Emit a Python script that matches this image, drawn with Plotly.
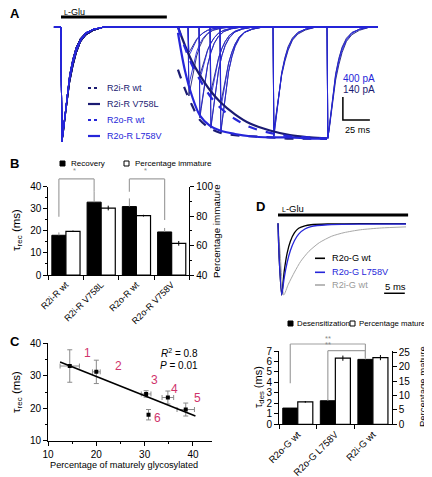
import numpy as np
import plotly.graph_objects as go

# The page body has an 8 px default margin: the figure is drawn 8 px in from the top-left,
# so all pixel positions below are page pixels converted with that offset.
OFF = 8
W, H = 432 - OFF, 477 - OFF
def fx(p): return (p - OFF) / W
def fy(p): return 1 - (p - OFF) / H

FONT = "Liberation Sans, Arial, Helvetica, sans-serif"
DARK = "#1b1b72"
BLUE = "#2626d9"
BRK = "#a0a0a0"
PINK = "#d0336b"
GREYTR = "#a8a8a8"

# ===================== DATA =====================
# ---- Panel A : recovery from desensitization (time in ms, current in pA) ----
A_constructs = ["R2i-R wt", "R2i-R V758L", "R2o-R wt", "R2o-R L758V"]
A_desens_t = [0, 0.8, 2, 4, 6, 8, 11, 14, 18, 23, 30, 40]
A_desens_frac = [
    [0, 1.0, 0.90, 0.72, 0.55, 0.42, 0.28, 0.18, 0.10, 0.05, 0.02, 0.0],
    [0, 1.0, 0.93, 0.77, 0.61, 0.48, 0.34, 0.23, 0.13, 0.07, 0.03, 0.0],
    [0, 1.0, 0.92, 0.75, 0.58, 0.45, 0.31, 0.21, 0.12, 0.06, 0.02, 0.0],
    [0, 1.0, 0.91, 0.73, 0.56, 0.43, 0.29, 0.19, 0.11, 0.05, 0.02, 0.0],
]
A_peak_pA = 2000
A_glu = [0, 98]
A_sweep = [-6.5, 293.5]
A_test_onset = [117.6, 127.8, 138.0, 147.2, 196.3, 246.3]
A_test_frac = [
    [0.60, 0.79, 0.88, 0.92, 0.95, 0.97],
    [0.22, 0.41, 0.55, 0.65, 0.88, 0.96],
    [0.25, 0.45, 0.60, 0.70, 0.91, 0.96],
    [0.50, 0.76, 0.86, 0.90, 0.95, 0.97],
]
A_fit_t = [108.3, 114.8, 121.3, 128.7, 138.0, 147.2, 161.1, 175.0, 193.5, 212.0, 230.6, 246.3]
A_fit_frac = [
    [0.37, 0.54, 0.68, 0.81, 0.88, 0.92, 0.94, 0.95, 0.96, 0.97, 0.97, 0.97],
    [0.00, 0.16, 0.30, 0.42, 0.55, 0.65, 0.76, 0.84, 0.90, 0.94, 0.96, 0.97],
    [0.00, 0.18, 0.33, 0.46, 0.60, 0.70, 0.80, 0.87, 0.92, 0.95, 0.96, 0.97],
    [0.05, 0.38, 0.60, 0.77, 0.86, 0.90, 0.93, 0.95, 0.96, 0.96, 0.97, 0.97],
]
A_scale_ms, A_scale_pA = 25, 400

# ---- Panel B ----
B_labels = ["R2i-R wt", "R2i-R V758L", "R2o-R wt", "R2o-R V758V"]
B_recovery = [18.0, 33.0, 31.0, 19.5]
B_recovery_err = [1.3, 4.7, 3.7, 1.8]
B_immature = [69.7, 85.5, 80.3, 61.5]
B_immature_err = [0.5, 1.6, 0.6, 1.6]

# ---- Panel C ----
C_x = [14.5, 20.0, 30.3, 34.8, 38.5, 30.8]
C_y = [33.0, 31.2, 24.4, 23.3, 19.6, 18.0]
C_xerr = [2.0, 0.8, 1.0, 1.2, 1.8, 0.0]
C_yerr = [5.0, 3.6, 1.0, 2.0, 2.0, 1.6]
C_ids = ["1", "2", "3", "4", "5", "6"]

# ---- Panel D traces (time ms, normalised current) ----
D_names = ["R2o-G wt", "R2o-G L758V", "R2i-G wt"]
D_t = [
    [0, 0.3, 0.9, 1.5, 2.2, 3.0, 4.0, 5.0, 6.5, 8, 12, 20, 31],
    [0, 0.3, 0.9, 1.5, 2.2, 3.0, 4.0, 5.0, 6.5, 8, 12, 20, 31],
    [0, 0.5, 1.4, 2.5, 4, 5.5, 7.5, 10, 13, 16, 20, 25, 31],
]
D_i = [
    [0, -0.5, -1, -0.67, -0.42, -0.25, -0.13, -0.07, -0.035, -0.02, -0.01, -0.005, -0.005],
    [0, -0.5, -1, -0.76, -0.55, -0.38, -0.24, -0.15, -0.08, -0.045, -0.02, -0.012, -0.01],
    [0, -0.4, -1, -0.85, -0.68, -0.53, -0.39, -0.27, -0.18, -0.13, -0.09, -0.065, -0.05],
]
D_glu = [0, 31.5]
D_scale_ms = 5

# ---- Panel D bars ----
D_labels = ["R2o-G wt", "R2o-G L758V", "R2i-G wt"]
D_des = [1.55, 2.25, 6.2]
D_des_err = [0.08, 0.12, 0.1]
D_mature = [7.8, 23.0, 23.2]
D_mature_err = [0.3, 0.9, 0.9]

# ===================== FIGURE =====================
fig = go.Figure()
A_col = [DARK, DARK, BLUE, BLUE]
A_dash = ["dash", "solid", "dash", "solid"]

for k in range(4):
    for j, onset in enumerate(A_test_onset):
        t = [A_sweep[0]] + [A_glu[0] + d for d in A_desens_t] + [onset + d for d in A_desens_t] + [A_sweep[1]]
        i = [0] + [-A_peak_pA * f for f in A_desens_frac[k]] + \
            [-A_peak_pA * A_test_frac[k][j] * f for f in A_desens_frac[k]] + [0]
        fig.add_trace(go.Scatter(x=t, y=i, mode="lines", xaxis="x", yaxis="y",
                                 line=dict(color=A_col[k], width=0.9), hoverinfo="skip"))
for k in range(4):
    fig.add_trace(go.Scatter(x=A_fit_t, y=[-A_peak_pA * f for f in A_fit_frac[k]], mode="lines",
                             xaxis="x", yaxis="y", line=dict(color=A_col[k], width=2.2, dash=A_dash[k], shape="spline"),
                             hoverinfo="skip"))
A_bar_y = 174
fig.add_trace(go.Scatter(x=A_glu, y=[A_bar_y, A_bar_y], mode="lines", xaxis="x", yaxis="y",
                         line=dict(color="black", width=3), hoverinfo="skip"))
sb_t0, sb_i0 = 261.0, -1617
fig.add_trace(go.Scatter(x=[sb_t0, sb_t0, sb_t0 + A_scale_ms], y=[sb_i0 + A_scale_pA, sb_i0, sb_i0],
                         mode="lines", xaxis="x", yaxis="y", line=dict(color="black", width=1.5), hoverinfo="skip"))

fig.add_trace(go.Bar(x=B_labels, y=B_recovery, xaxis="x2", yaxis="y2", offset=-0.4, width=0.4,
                     marker=dict(color="black", line=dict(color="black", width=1)),
                     error_y=dict(type="data", symmetric=False, array=B_recovery_err, arrayminus=[0] * 4,
                                  color="#909090", thickness=1, width=0)))
fig.add_trace(go.Bar(x=B_labels, y=[v - 40 for v in B_immature], base=40, xaxis="x2", yaxis="y3", offset=0, width=0.4,
                     marker=dict(color="white", line=dict(color="black", width=1.2)),
                     error_y=dict(type="data", array=B_immature_err, color="black", thickness=1, width=0)))

fig.add_trace(go.Scatter(x=C_x, y=C_y, mode="markers", xaxis="x3", yaxis="y4",
                         marker=dict(symbol="square", size=4, color="black"),
                         error_x=dict(type="data", array=C_xerr, color="#8a8a8a", thickness=1, width=2.5),
                         error_y=dict(type="data", array=C_yerr, color="#8a8a8a", thickness=1, width=2.5)))
slope, intercept = np.polyfit(C_x, C_y, 1)
fit_ext = np.array([12.5, 40.5])
fig.add_trace(go.Scatter(x=fit_ext, y=slope * fit_ext + intercept, mode="lines", xaxis="x3", yaxis="y4",
                         line=dict(color="black", width=1.6), hoverinfo="skip"))
C_lab_off = [(3.7, 4.0), (4.6, 1.8), (1.8, 4.4), (1.3, 2.7), (2.5, 3.7), (1.8, -1.1)]

D_col = ["black", BLUE, GREYTR]
D_w = [1.3, 1.3, 1.0]
for k in [2, 0, 1]:
    fig.add_trace(go.Scatter(x=D_t[k], y=D_i[k], mode="lines", xaxis="x4", yaxis="y5",
                             line=dict(color=D_col[k], width=D_w[k], shape="spline", smoothing=0.6), hoverinfo="skip"))
fig.add_trace(go.Scatter(x=D_glu, y=[0.116, 0.116], mode="lines", xaxis="x4", yaxis="y5",
                         line=dict(color="black", width=3), hoverinfo="skip"))
D_sb_t0, D_sb_i = 25.7, -0.976
fig.add_trace(go.Scatter(x=[D_sb_t0, D_sb_t0 + D_scale_ms], y=[D_sb_i, D_sb_i], mode="lines", xaxis="x4", yaxis="y5",
                         line=dict(color="black", width=1.5), hoverinfo="skip"))

fig.add_trace(go.Bar(x=D_labels, y=D_des, xaxis="x5", yaxis="y6", offset=-0.4, width=0.4,
                     marker=dict(color="black", line=dict(color="black", width=1)),
                     error_y=dict(type="data", symmetric=False, array=D_des_err, arrayminus=[0] * 3,
                                  color="#909090", thickness=1, width=0)))
fig.add_trace(go.Bar(x=D_labels, y=D_mature, xaxis="x5", yaxis="y7", offset=0, width=0.4,
                     marker=dict(color="white", line=dict(color="black", width=1.2)),
                     error_y=dict(type="data", array=D_mature_err, color="black", thickness=1, width=0)))

# ===================== AXES =====================
TICKF = dict(size=10, family=FONT, color="black")
base = dict(showline=True, linecolor="black", linewidth=1, ticks="outside", tickcolor="black",
            ticklen=4, tickwidth=1, showgrid=False, zeroline=False, automargin=False, tickfont=TICKF)
hidden = dict(visible=False, showgrid=False, zeroline=False, fixedrange=True, automargin=False)

A_range_x = [(50 - 61) / 1.08, (385 - 61) / 1.08]
A_range_y = [-(150 - 27) * 17.39, (27 - 8) * 17.39]
D_range_x = [(270 - 278) / 4.13, (412 - 278) / 4.13]
D_range_y = [-(300 - 223.3) / 71.7, (223.3 - 205) / 71.7]

B_y0, B_y1 = 275.0, 186.7
C_x0, C_x1 = 48.0, 48.0 + 34 * 4.833
C_y0, C_y1 = 440.7, 343.3
D_y0, D_y1 = 424.3, 351.0

layout_axes = dict(
    xaxis=dict(hidden, domain=[fx(50), fx(385)], range=A_range_x, anchor="y"),
    yaxis=dict(hidden, domain=[fy(150), fy(8)], range=A_range_y, anchor="x"),
    xaxis2=dict(base, type="category", domain=[fx(48.3), fx(189.3)], anchor="y2", tickson="boundaries",
                tickangle=-45, tickfont=dict(size=9, family=FONT, color="black"), range=[-0.5, 3.5]),
    yaxis2=dict(base, domain=[fy(B_y0), fy(B_y1)], range=[0, 40], tick0=0, dtick=10, anchor="x2",
                minor=dict(dtick=5, ticks="outside", ticklen=2, tickcolor="black")),
    yaxis3=dict(base, overlaying="y2", side="right", range=[40, 100], tick0=40, dtick=20, anchor="x2",
                minor=dict(dtick=10, ticks="outside", ticklen=2, tickcolor="black")),
    xaxis3=dict(base, domain=[fx(C_x0), fx(C_x1)], range=[10, 44], tickvals=[10, 20, 30, 40], anchor="y4",
                minor=dict(tickvals=[15, 25, 35], ticks="outside", ticklen=2, tickcolor="black")),
    yaxis4=dict(base, domain=[fy(C_y0), fy(C_y1)], range=[10, 40], tick0=10, dtick=10, anchor="x3",
                minor=dict(dtick=5, ticks="outside", ticklen=2, tickcolor="black")),
    xaxis4=dict(hidden, domain=[fx(270), fx(412)], range=D_range_x, anchor="y5"),
    yaxis5=dict(hidden, domain=[fy(300), fy(205)], range=D_range_y, anchor="x4"),
    xaxis5=dict(base, type="category", domain=[fx(279), fx(391.7)], anchor="y6", tickson="boundaries",
                tickangle=-45, tickfont=dict(size=9.5, family=FONT, color="black"), range=[-0.5, 2.5]),
    yaxis6=dict(base, domain=[fy(D_y0), fy(D_y1)], range=[0, 7], tick0=0, dtick=1, anchor="x5"),
    yaxis7=dict(base, overlaying="y6", side="right", range=[0, 25.5], tick0=0, dtick=5, anchor="x5"),
)

# ===================== ANNOTATIONS / SHAPES =====================
ann = []
shapes = []
def txt(x, y, s, size=10, color="black", xanchor="left", yanchor="middle", angle=0, bold=False):
    ann.append(dict(x=fx(x), y=fy(y), xref="paper", yref="paper", text=("<b>%s</b>" % s) if bold else s,
                    showarrow=False, xanchor=xanchor, yanchor=yanchor, textangle=angle,
                    font=dict(size=size, color=color, family=FONT)))

txt(8, 13.5, "A", 13, bold=True)
txt(8, 164, "B", 13, bold=True)
txt(8, 341.5, "C", 13, bold=True)
txt(254, 206, "D", 13, bold=True)

LGLU = "<span style='font-size:7px'>L</span>-Glu"
txt(62, 12.5, LGLU, 9)
txt(341, 78, "400 pA", 10, BLUE)
txt(341, 90, "140 pA", 10, DARK)
txt(357, 130, "25 ms", 9.2, xanchor="center")
leg_y = [88, 104, 120, 136]
leg_dash = ["dot", "solid", "dot", "solid"]
for k, name in enumerate(A_constructs):
    shapes.append(dict(type="line", xref="paper", yref="paper", x0=fx(88), x1=fx(100), y0=fy(leg_y[k]), y1=fy(leg_y[k]),
                       line=dict(color=A_col[k], width=2.2, dash=leg_dash[k])))
    txt(105, leg_y[k], name, 9, A_col[k])

shapes.append(dict(type="rect", xref="paper", yref="paper", x0=fx(60), x1=fx(65), y0=fy(166), y1=fy(161),
                   fillcolor="black", line=dict(color="black", width=1)))
txt(69, 163.5, "Recovery", 8)
shapes.append(dict(type="rect", xref="paper", yref="paper", x0=fx(124), x1=fx(129), y0=fy(166), y1=fy(161),
                   fillcolor="white", line=dict(color="black", width=1)))
txt(132.5, 163.5, "Percentage immature", 8)
txt(17, 230, "τ<sub>rec</sub> (ms)", 11.5, xanchor="center", angle=-90)
txt(216, 231, "Percentage immature", 9.8, xanchor="center", angle=-90)

def yB(v): return fy(B_y0 - v * (B_y0 - B_y1) / 40.0)
B_brackets = [(-0.2, 0.8, 43.5, 26.4, 37.7), (1.8, 2.8, 43.5, 37.7, 24.9)]
for xl, xr, top, lb, rb in B_brackets:
    for (a0, a1, b0, b1) in [(xl, xl, lb, top), (xl, xr, top, top), (xr, xr, top, rb)]:
        shapes.append(dict(type="line", xref="x2", yref="paper", x0=a0, x1=a1, y0=yB(b0), y1=yB(b1),
                           line=dict(color=BRK, width=1.2)))
    ann.append(dict(x=(xl + xr) / 2 - 0.05, y=yB(top + 0.8), xref="x2", yref="paper", text="*", showarrow=False,
                    xanchor="center", yanchor="bottom", font=dict(size=7.5, color="#888", family=FONT)))

for k in range(6):
    ann.append(dict(x=C_x[k] + C_lab_off[k][0], y=C_y[k] + C_lab_off[k][1], xref="x3", yref="y4", text=C_ids[k],
                    showarrow=False, font=dict(size=12, color=PINK, family=FONT)))
txt(200, 353, "<i>R</i><sup>2</sup> = 0.8", 10, xanchor="right")
txt(200, 365, "<i>P</i> = 0.01", 10, xanchor="right")
txt(17, 392, "τ<sub>rec</sub> (ms)", 11.5, xanchor="center", angle=-90)
txt(124, 465, "Percentage of maturely glycosylated", 9.2, xanchor="center")

txt(280, 208, LGLU, 9.5)
D_leg_y = [258.3, 272.3, 285.0]
for k, name in enumerate(D_names):
    shapes.append(dict(type="line", xref="paper", yref="paper", x0=fx(315), x1=fx(325), y0=fy(D_leg_y[k]), y1=fy(D_leg_y[k]),
                       line=dict(color=D_col[k], width=1.6)))
    txt(330, D_leg_y[k], name, 9.2, D_col[k] if k != 2 else "#999999")
txt(395, 286, "5 ms", 9.5, xanchor="center")

shapes.append(dict(type="rect", xref="paper", yref="paper", x0=fx(288), x1=fx(293), y0=fy(326), y1=fy(321),
                   fillcolor="black", line=dict(color="black", width=1)))
txt(295, 323.5, "Desensitization", 7.8)
shapes.append(dict(type="rect", xref="paper", yref="paper", x0=fx(350), x1=fx(355), y0=fy(326), y1=fy(321),
                   fillcolor="white", line=dict(color="black", width=1)))
txt(357, 323.5, "Percentage mature", 7.8)
txt(259, 387, "τ<sub>des</sub> (ms)", 11, xanchor="center", angle=-90)
txt(422, 387, "Percentage mature", 9.5, xanchor="center", angle=-90)

def yD(v): return fy(D_y0 - v * (D_y0 - D_y1) / 7.0)
D_brackets = [(-0.2, 1.8, 7.67, 3.92, 6.33), (0.8, 1.8, 7.03, 2.32, 6.33)]
for xl, xr, top, lb, rb in D_brackets:
    for (a0, a1, b0, b1) in [(xl, xl, lb, top), (xl, xr, top, top), (xr, xr, top, rb)]:
        shapes.append(dict(type="line", xref="x5", yref="paper", x0=a0, x1=a1, y0=yD(b0), y1=yD(b1),
                           line=dict(color=BRK, width=1.2)))
    ann.append(dict(x=0.8, y=yD(top - 0.05), xref="x5", yref="paper", text="**", showarrow=False,
                    xanchor="center", yanchor="bottom", font=dict(size=7.5, color="#888", family=FONT)))

fig.update_layout(
    template="none",
    width=W, height=H, autosize=False,
    margin=dict(l=0, r=0, t=0, b=0, pad=0),
    paper_bgcolor="white", plot_bgcolor="rgba(0,0,0,0)",
    showlegend=False, barmode="overlay",
    font=dict(family=FONT, color="black", size=10),
    annotations=ann, shapes=shapes,
    **layout_axes,
)

fig.write_html("out.html")
